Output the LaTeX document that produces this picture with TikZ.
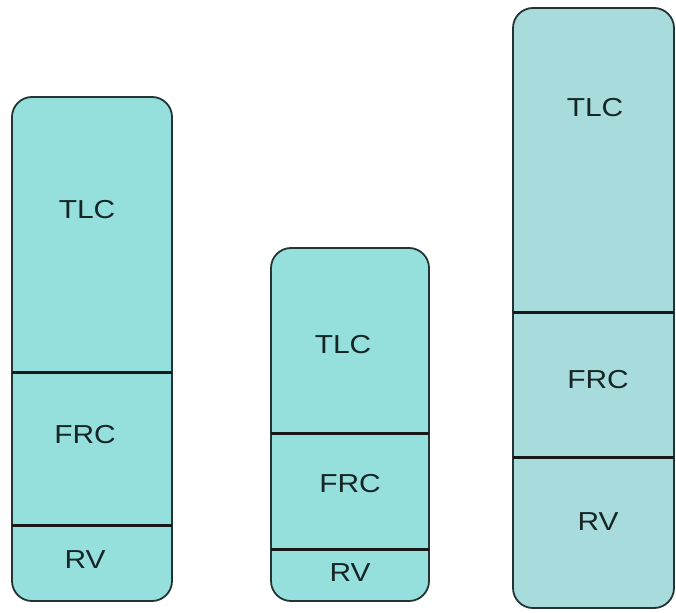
\documentclass[tikz,border=0pt]{standalone}
\usepackage{fontspec}
\setmainfont{Liberation Sans}
\definecolor{fillA}{RGB}{149,224,221}
\definecolor{fillB}{RGB}{168,220,220}
\definecolor{edgec}{RGB}{36,52,52}
\definecolor{textc}{RGB}{22,38,38}
\begin{document}
\begin{tikzpicture}[x=1pt,y=-1pt,
  lung/.style={draw=edgec, line width=1.8pt, rounded corners=20pt, rectangle, inner sep=0pt, outer sep=0pt},
  divider/.style={draw=black!90, line width=3pt},
  lbl/.style={text=textc, font=\fontsize{26}{31}\selectfont, xscale=1.15, inner sep=0pt}]
\useasboundingbox (0,0) rectangle (676,612);
% bar 1
\node[lung, fill=fillA, minimum width=160pt, minimum height=504pt] (b1) at (92,349) {};
\coordinate (b1d1) at (0,372);
\coordinate (b1d2) at (0,525);
\draw[divider] (b1.west |- b1d1) -- (b1.east |- b1d1);
\draw[divider] (b1.west |- b1d2) -- (b1.east |- b1d2);
\node[lbl] (t1) at (87,210) {TLC};
\node[lbl] (f1) at (85,435) {FRC};
\node[lbl] (r1) at (85,560) {RV};
% bar 2
\node[lung, fill=fillA, minimum width=158pt, minimum height=353pt] (b2) at (350,424.5) {};
\coordinate (b2d1) at (0,433);
\coordinate (b2d2) at (0,549);
\draw[divider] (b2.west |- b2d1) -- (b2.east |- b2d1);
\draw[divider] (b2.west |- b2d2) -- (b2.east |- b2d2);
\node[lbl] (t2) at (343,345) {TLC};
\node[lbl] (f2) at (350,484) {FRC};
\node[lbl] (r2) at (350,573) {RV};
% bar 3
\node[lung, fill=fillB, minimum width=161pt, minimum height=600pt] (b3) at (593.5,308) {};
\coordinate (b3d1) at (0,312);
\coordinate (b3d2) at (0,457);
\draw[divider] (b3.west |- b3d1) -- (b3.east |- b3d1);
\draw[divider] (b3.west |- b3d2) -- (b3.east |- b3d2);
\node[lbl] (t3) at (595,108) {TLC};
\node[lbl] (f3) at (598,380) {FRC};
\node[lbl] (r3) at (598,522) {RV};
\end{tikzpicture}
\end{document}
